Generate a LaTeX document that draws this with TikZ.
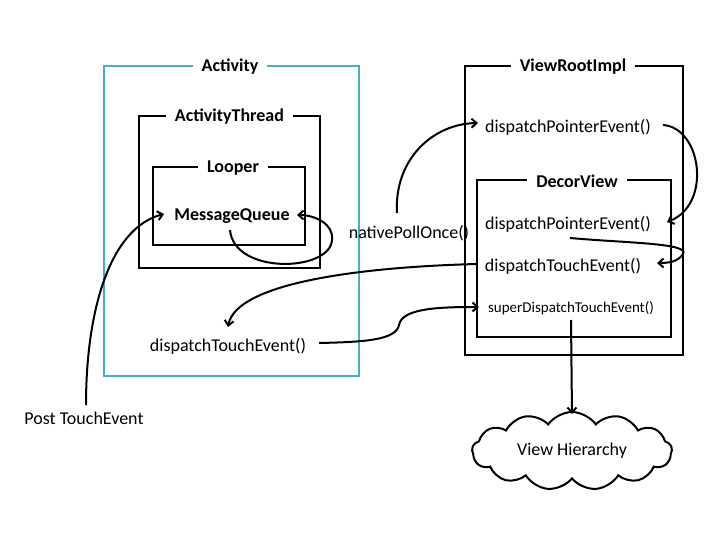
\documentclass[tikz,border=0pt]{standalone}
\usepackage{fontspec}
\setmainfont{Carlito}
\usetikzlibrary{arrows.meta,shapes.symbols}
\definecolor{actblue}{RGB}{75,172,198}
\begin{document}
\begin{tikzpicture}[x=1pt,y=-1pt,
  box/.style={draw=black,line width=2.5pt,inner sep=0pt},
  bluebox/.style={draw=actblue,line width=2.2pt,inner sep=0pt},
  ttl/.style={fill=white,inner xsep=9pt,inner ysep=1pt,font=\fontsize{18}{20}\selectfont\bfseries},
  lbl/.style={inner sep=1pt,font=\fontsize{18}{20}\selectfont},
  small/.style={inner sep=1pt,font=\fontsize{15}{17}\selectfont},
  arr/.style={line width=2pt,-{Straight Barb[length=5pt,width=9pt,line width=2pt]}}
]
\useasboundingbox (0,0) rectangle (720,540);
% boxes
\node[bluebox,minimum width=255,minimum height=310] (activity) at (231.5,221) {};
\node[box,minimum width=181,minimum height=152] (athread) at (229.5,192) {};
\node[box,minimum width=152,minimum height=78] (looper) at (229,206) {};
\node[box,minimum width=218,minimum height=289] (vri) at (574,210.5) {};
\node[box,minimum width=194,minimum height=157] (decor) at (574,258.5) {};
% titles
\node[ttl] (tAct) at (230,67) {Activity};
\node[ttl] (tAT) at (229.5,117) {ActivityThread};
\node[ttl] (tLoop) at (233,168) {Looper};
\node[ttl] (tVRI) at (573,67) {ViewRootImpl};
\node[ttl] (tDec) at (577,181) {DecorView};
% texts
\node[lbl,font=\fontsize{18}{20}\selectfont\bfseries] (mq) at (232,216) {MessageQueue};
\node[lbl] (npo) at (409,233) {nativePollOnce()};
\node[lbl] (dpe1) at (568,127) {dispatchPointerEvent()};
\node[lbl] (dpe2) at (568,224) {dispatchPointerEvent()};
\node[lbl] (dte) at (563,266) {dispatchTouchEvent()};
\node[small] (sdte) at (571,308) {superDispatchTouchEvent()};
\node[lbl] (dteL) at (228,346) {dispatchTouchEvent()};
\node[lbl] (pte) at (84,418) {Post TouchEvent};
\node[cloud,draw,line width=2pt,cloud puffs=13,cloud puff arc=110,aspect=2.6,
  minimum width=200,minimum height=78,inner sep=0pt,
  font=\fontsize{18}{20}\selectfont] (vh) at (572,451) {View Hierarchy};
% connector end points
\coordinate (p1) at (86,405);
\coordinate (p1e) at (164,214);
\coordinate (m1) at (230,230);
\coordinate (m1b) at (332,240);
\coordinate (m1e) at (297,215);
\coordinate (n1) at (397,213);
\coordinate (n1e) at (478,123);
\coordinate (d1) at (663,125);
\coordinate (d1e) at (667,222);
\coordinate (d2) at (570,238);
\coordinate (d2b) at (683,254);
\coordinate (d2e) at (657,263);
\coordinate (t1) at (477,264);
\coordinate (t1e) at (228,327);
\coordinate (l1) at (319,343);
\coordinate (l1b) at (399,325);
\coordinate (l1e) at (479,307);
\coordinate (s1) at (571,320);
% connectors
\draw[arr] (p1) .. controls (86,310) and (110,228) .. (p1e);
\draw[arr] (m1) .. controls (234,275) and (330,272) .. (m1b) .. controls (334,224) and (315,215) .. (m1e);
\draw[arr] (n1) .. controls (394,160) and (432,124) .. (n1e);
\draw[arr] (d1) .. controls (702,128) and (712,205) .. (d1e);
\draw[arr] (d2) .. controls (625,243) and (690,243) .. (d2b) .. controls (678,262) and (668,263) .. (d2e);
\draw[arr] (t1) .. controls (360,267) and (236,283) .. (t1e);
\draw[arr] (l1) .. controls (365,342) and (396,340) .. (l1b) .. controls (402,308) and (440,307) .. (l1e);
\draw[arr] (s1) -- (vh.north |- 0,414);
\end{tikzpicture}
\end{document}
